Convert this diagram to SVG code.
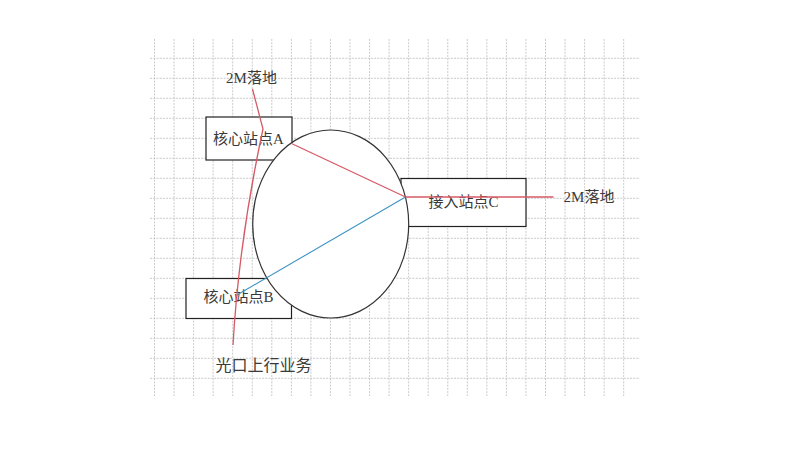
<svg xmlns="http://www.w3.org/2000/svg" width="800" height="460" viewBox="0 0 800 460">
<defs>
<style>
.grid line{stroke:#c4c4c4;stroke-width:0.9;stroke-dasharray:2 1.2}
.box{fill:#fff;stroke:#222;stroke-width:1.2}
.ring{fill:#fff;stroke:#333;stroke-width:1.2}
text{font-family:"Liberation Serif","Noto Sans CJK SC",serif;font-size:15px;fill:#3a3a3a;text-anchor:middle}
.red{fill:none;stroke:#d65a66;stroke-width:1.3}
.blue{fill:none;stroke:#3d93c4;stroke-width:1.1}
</style>
</defs>
<rect width="800" height="460" fill="#fff"/>
<g class="grid" id="grid">
<line x1="154.5" y1="39" x2="154.5" y2="396"/>
<line x1="174.05" y1="39" x2="174.05" y2="396"/>
<line x1="193.6" y1="39" x2="193.6" y2="396"/>
<line x1="213.15" y1="39" x2="213.15" y2="396"/>
<line x1="232.7" y1="39" x2="232.7" y2="396"/>
<line x1="252.25" y1="39" x2="252.25" y2="396"/>
<line x1="271.8" y1="39" x2="271.8" y2="396"/>
<line x1="291.35" y1="39" x2="291.35" y2="396"/>
<line x1="310.9" y1="39" x2="310.9" y2="396"/>
<line x1="330.45" y1="39" x2="330.45" y2="396"/>
<line x1="350" y1="39" x2="350" y2="396"/>
<line x1="369.55" y1="39" x2="369.55" y2="396"/>
<line x1="389.1" y1="39" x2="389.1" y2="396"/>
<line x1="408.65" y1="39" x2="408.65" y2="396"/>
<line x1="428.2" y1="39" x2="428.2" y2="396"/>
<line x1="447.75" y1="39" x2="447.75" y2="396"/>
<line x1="467.3" y1="39" x2="467.3" y2="396"/>
<line x1="486.85" y1="39" x2="486.85" y2="396"/>
<line x1="506.4" y1="39" x2="506.4" y2="396"/>
<line x1="525.95" y1="39" x2="525.95" y2="396"/>
<line x1="545.5" y1="39" x2="545.5" y2="396"/>
<line x1="565.05" y1="39" x2="565.05" y2="396"/>
<line x1="584.6" y1="39" x2="584.6" y2="396"/>
<line x1="604.15" y1="39" x2="604.15" y2="396"/>
<line x1="623.7" y1="39" x2="623.7" y2="396"/>
<line x1="150" y1="58.3" x2="640" y2="58.3"/>
<line x1="150" y1="78.3" x2="640" y2="78.3"/>
<line x1="150" y1="98.3" x2="640" y2="98.3"/>
<line x1="150" y1="118.3" x2="640" y2="118.3"/>
<line x1="150" y1="138.3" x2="640" y2="138.3"/>
<line x1="150" y1="158.3" x2="640" y2="158.3"/>
<line x1="150" y1="178.3" x2="640" y2="178.3"/>
<line x1="150" y1="198.3" x2="640" y2="198.3"/>
<line x1="150" y1="218.3" x2="640" y2="218.3"/>
<line x1="150" y1="238.3" x2="640" y2="238.3"/>
<line x1="150" y1="258.3" x2="640" y2="258.3"/>
<line x1="150" y1="278.3" x2="640" y2="278.3"/>
<line x1="150" y1="298.3" x2="640" y2="298.3"/>
<line x1="150" y1="318.3" x2="640" y2="318.3"/>
<line x1="150" y1="338.3" x2="640" y2="338.3"/>
<line x1="150" y1="358.3" x2="640" y2="358.3"/>
<line x1="150" y1="378.3" x2="640" y2="378.3"/>
</g>
<g id="siteA">
<rect class="box" x="206" y="117" width="86" height="43"/>
<text x="248.5" y="143.5">核心站点A</text>
</g>
<g id="siteB">
<rect class="box" x="186" y="278.5" width="105.5" height="40"/>
<text x="238.5" y="302">核心站点B</text>
</g>
<g id="siteC">
<rect class="box" x="401" y="178.5" width="125" height="48"/>
<text x="463.5" y="207">接入站点C</text>
</g>
<g id="ring">
<ellipse class="ring" cx="330.7" cy="224" rx="78" ry="94"/>
</g>
<g id="labels">
<text x="251.5" y="83">2M落地</text>
<text x="589" y="202">2M落地</text>
<text x="263.5" y="371" style="font-size:16px">光口上行业务</text>
</g>
<g id="connectors">
<path class="red" d="M252.5,89 L263,129 Q239,240 233,345"/>
<path class="red" d="M291.5,143.5 L405.5,197"/>
<path class="red" d="M405.5,197 L553.5,197"/>
<path class="blue" d="M237,295 L405.5,197"/>
</g>
</svg>
